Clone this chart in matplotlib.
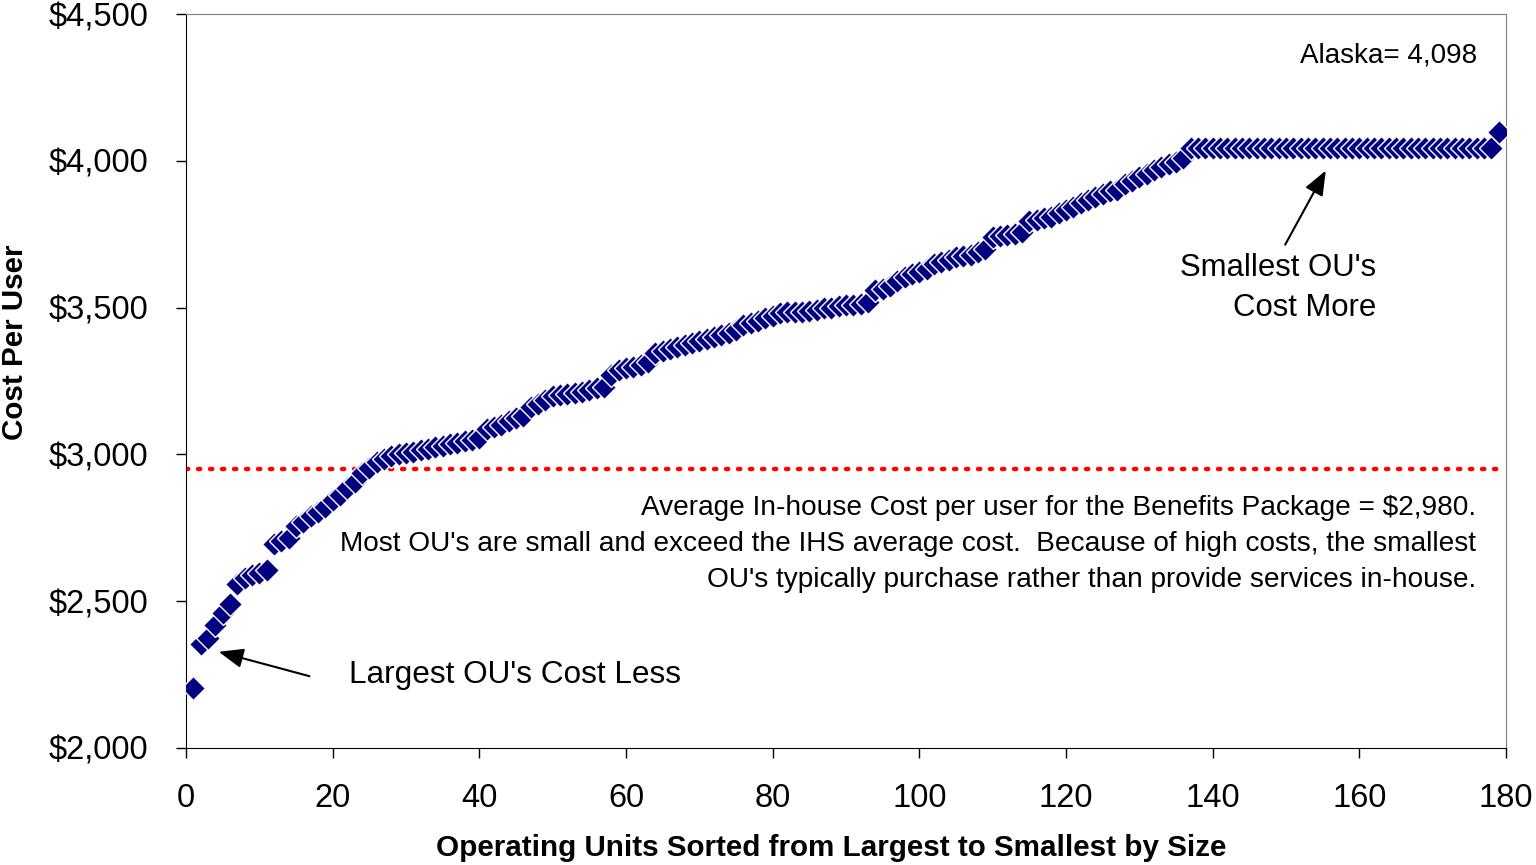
import matplotlib
matplotlib.use("Agg")
import matplotlib.pyplot as plt
from matplotlib.ticker import FuncFormatter

plt.rcParams["font.family"] = ["Liberation Sans", "DejaVu Sans"]

# cost per user, operating units sorted largest -> smallest (1..179)
unit_rank = list(range(1, 180))
cost_per_user = [
    2205, 2355, 2375, 2420, 2460, 2490, 2560, 2580, 2590, 2595,
    2605, 2695, 2705, 2715, 2755, 2770, 2790, 2805, 2820, 2845,
    2860, 2885, 2905, 2935, 2955, 2975, 2985, 2995, 3000, 3005,
    3008, 3015, 3020, 3025, 3030, 3035, 3040, 3045, 3050, 3055,
    3085, 3092, 3100, 3115, 3125, 3130, 3160, 3170, 3185, 3200,
    3202, 3205, 3208, 3213, 3218, 3225, 3230, 3270, 3288, 3295,
    3298, 3305, 3315, 3345, 3352, 3360, 3365, 3372, 3378, 3385,
    3392, 3400, 3408, 3415, 3425, 3440, 3448, 3455, 3465, 3472,
    3480, 3485, 3485, 3486, 3488, 3492, 3497, 3500, 3504, 3509,
    3510, 3513, 3518, 3560, 3565, 3575, 3590, 3603, 3615, 3622,
    3630, 3648, 3655, 3662, 3672, 3676, 3680, 3688, 3700, 3740,
    3745, 3748, 3752, 3758, 3795, 3800, 3805, 3810, 3822, 3832,
    3842, 3855, 3866, 3876, 3888, 3896, 3902, 3922, 3932, 3945,
    3955, 3968, 3978, 3988, 3995, 4010, 4045, 4045, 4045, 4045,
    4045, 4045, 4045, 4045, 4045, 4045, 4045, 4045, 4045, 4045,
    4045, 4045, 4045, 4045, 4045, 4045, 4045, 4045, 4045, 4045,
    4045, 4045, 4045, 4045, 4045, 4045, 4045, 4045, 4045, 4045,
    4045, 4045, 4045, 4045, 4045, 4045, 4045, 4045, 4098,
]
average_line = 2950

x_ticks = list(range(0, 181, 20))
y_ticks = list(range(2000, 4501, 500))

fig = plt.figure(figsize=(15.36, 8.65), dpi=100)
ax = fig.add_axes([0.1211, 0.1353, 0.8594, 0.8485])

ax.axhline(average_line, color="#FF0000", linestyle=(0, (0.5, 2.2)), linewidth=3.2,
           dash_capstyle="round", zorder=2)
ax.plot(unit_rank, cost_per_user, linestyle="none", marker="D", markersize=12.5,
        markerfacecolor="#000080", markeredgecolor="white", markeredgewidth=1.0, zorder=3)

ax.set_xlim(0, 180)
ax.set_ylim(2000, 4500)
ax.set_xticks(x_ticks)
ax.set_yticks(y_ticks)
ax.yaxis.set_major_formatter(FuncFormatter(lambda v, p: "${:,.0f}".format(v)))
ax.tick_params(axis="both", direction="out", length=7, width=1, labelsize=23.5)
ax.tick_params(axis="y", pad=20)
ax.tick_params(axis="x", pad=18)

for side in ["top", "right"]:
    ax.spines[side].set_color("#808080")
for side in ["left", "bottom"]:
    ax.spines[side].set_color("black")

ax.set_xlabel("Operating Units Sorted from Largest to Smallest by Size",
              fontsize=21.3, fontweight="bold")
ax.xaxis.label.set_va("center")
ax.xaxis.set_label_coords(0.4886, -0.136)
ax.set_ylabel("Cost Per User", fontsize=21.3, fontweight="bold")
ax.yaxis.label.set_va("center")
ax.yaxis.set_label_coords(-0.1295, 0.553)

ax.text(176.0, 4357, "Alaska= 4,098", fontsize=20, ha="right", va="center")

note_lines = [
    "Average In-house Cost per user for the Benefits Package = $2,980.",
    "Most OU's are small and exceed the IHS average cost.  Because of high costs, the smallest",
    "OU's typically purchase rather than provide services in-house.",
]
for line, y in zip(note_lines, [2817, 2695, 2572]):
    ax.text(175.9, y, line, fontsize=20.2, ha="right", va="center")

arrow_style = dict(arrowstyle="-|>,head_length=1.5,head_width=0.6", color="black", lw=1.5)

ax.text(22.2, 2249, "Largest OU's Cost Less", fontsize=22.7, ha="left", va="center")
ax.annotate("", xy=(4.1, 2330), xytext=(17.2, 2242), arrowprops=arrow_style)

ax.text(162.3, 3635, "Smallest OU's", fontsize=22.4, ha="right", va="center")
ax.text(162.3, 3499, "Cost More", fontsize=22.4, ha="right", va="center")
ax.annotate("", xy=(155.6, 3975), xytext=(149.7, 3706), arrowprops=arrow_style)

fig.savefig("out.png", dpi=100)
